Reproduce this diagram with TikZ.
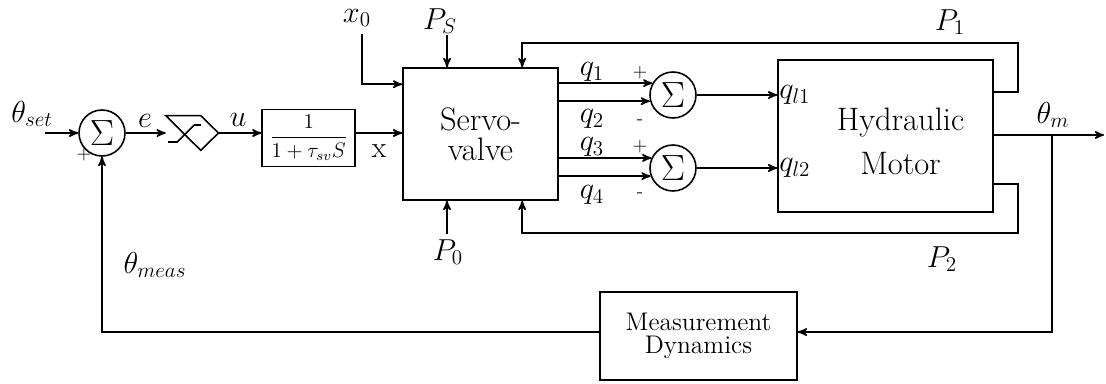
\documentclass[tikz,border=0pt]{standalone}
\usepackage{amsmath}
\usetikzlibrary{arrows,positioning,calc}

\begin{document}
\begin{tikzpicture}[
    x=0.02cm, y=-0.02cm,
    font=\fontsize{17}{20}\selectfont,
    block/.style={
        rectangle,
        draw=black,
        line width=0.9pt,
        align=center
    },
    sumnode/.style={
        circle,
        draw=black,
        line width=0.9pt,
        minimum size=0.92cm,
        inner sep=0pt,
        font=\fontsize{21}{22}\selectfont
    },
    satbox/.style={
        rectangle,
        minimum width=1.04cm,
        minimum height=0.68cm,
        inner sep=0pt
    },
    lbl/.style={inner sep=1pt},
    sign/.style={font=\fontsize{11}{12}\selectfont, inner sep=0pt},
    sig/.style={line width=0.9pt,->,>=stealth'}
]
\useasboundingbox (0,0) rectangle (1106,383);
% forward path
\node (sum1) [sumnode] at (102,133) {$\Sigma$};
\node (sat) [satbox, right=0.8cm of sum1] {};
\node (tf) [block, minimum width=1.86cm, minimum height=1.14cm, font=\fontsize{12}{14}\selectfont,
    right=0.86cm of sat, yshift=-0.1cm] {$\dfrac{1}{1+\tau_{sv}S}$};
\node (sv) [block, minimum width=3.1cm, minimum height=2.64cm, font=\fontsize{18.5}{17}\selectfont]
    at (480.5,134) {Servo-\\valve};
\node (sumA) [sumnode] at (673,95) {$\Sigma$};
\node (sumB) [sumnode] at (673,168) {$\Sigma$};
\node (motor) [block, minimum width=4.3cm, minimum height=3.04cm] at (885.5,136) {};
\node (motorlabel) [align=center, font=\fontsize{18.5}{17}\selectfont]
    at ($(motor.center)+(15,5)$) {Hydraulic\\[8pt]Motor};
\node (meas) [block, minimum width=3.94cm, minimum height=1.76cm, font=\fontsize{14.5}{13}\selectfont]
    at (698.5,336) {Measurement\\Dynamics};

% saturation block
\draw [line width=0.9pt] (sat.north west) -- ++(35,0) -- (sat.east) -- ($(sat.south west)+(35,0)$) -- cycle;
\draw [line width=0.9pt] (sat.center) ++(-24,9) -- ++(9,0) -- ++(17,-17) -- ++(7,0);

% free ends
\coordinate (setin) at (45,133);
\coordinate (x0in) at (362,34);
\coordinate (psin) at (447,35);
\coordinate (p0in) at (447,234);
\coordinate (p1c) at (1018,43);
\coordinate (p2c) at (1018,233);
\coordinate (br) at (1052,135);
\coordinate (thetaout) at (1104,135);
\coordinate (fbk) at (1052,332);

% connectors
\draw [sig] (setin) -- (sum1);
\draw [sig] (sum1) -- (sat);
\draw [sig] (sat.east) -- (sat.east -| tf.west);
\draw [sig] (tf.east |- sat.east) -- (sv.west |- sat.east);
\draw [sig] (x0in) |- ($(sv.north west)+(0,17)$);
\draw [sig] (psin) -- (psin |- sv.north);
\draw [sig] (p0in) -- (p0in |- sv.south);
\draw [sig] (sv.east |- sumA.150) -- (sumA.150);
\draw [sig] (sv.east |- sumA.195) -- (sumA.195);
\draw [sig] (sv.east |- sumB.155) -- (sumB.155);
\draw [sig] (sv.east |- sumB.200) -- (sumB.200);
\draw [sig] (sumA.east) -- (sumA.east -| motor.west);
\draw [sig] (sumB.east) -- (sumB.east -| motor.west);
\draw [sig] ($(motor.north east)+(0,33)$) -| (p1c) -| ($(sv.north west)+(120,0)$);
\draw [sig] ($(motor.south east)+(0,-29)$) -| (p2c) -| ($(sv.south west)+(120,0)$);
\draw [sig] (motor.east |- thetaout) -- (thetaout);
\draw [sig] (br) -- (fbk) -- (fbk -| meas.east);
\draw [sig] (meas.west |- fbk) -| (sum1.south);

% labels
\node (thetaset) [lbl] at (32,114) {$\theta_{set}$};
\node (elabel) [lbl] at (145,121) {$e$};
\node (ulabel) [lbl] at (238,120) {$u$};
\node (xlabel) [lbl] at (379,151) {x};
\node (x0) [lbl] at (357,18) {$x_0$};
\node (ps) [lbl] at (440,21) {$P_S$};
\node (p0) [lbl] at (448,252) {$P_0$};
\node (q1) [lbl] at (592,72) {$q_1$};
\node (q2) [lbl] at (592,119) {$q_2$};
\node (q3) [lbl] at (592,147) {$q_3$};
\node (q4) [lbl] at (592,195) {$q_4$};
\node (ql1) [anchor=west, inner sep=1pt] at (sumA.east -| motor.west) {$q_{l1}$};
\node (ql2) [anchor=west, inner sep=1pt] at (sumB.east -| motor.west) {$q_{l2}$};
\node (p1) [lbl] at (950,22) {$P_1$};
\node (p2) [lbl] at (942,259) {$P_2$};
\node (thetam) [lbl] at (1053,115) {$\theta_m$};
\node (thetameas) [lbl] at (155,265) {$\theta_{meas}$};
\node (plus0) [sign] at (84,155) {+};
\node (plus1) [sign] at (640,73) {+};
\node (minus2) [sign] at (640,122) {-};
\node (plus3) [sign] at (640,147) {+};
\node (minus4) [sign] at (640,195) {-};
\end{tikzpicture}
\end{document}
